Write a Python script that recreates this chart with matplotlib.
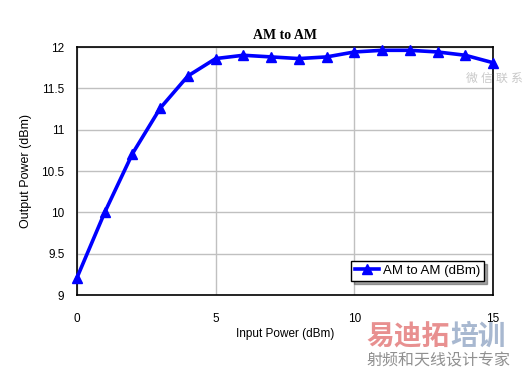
import matplotlib.pyplot as plt

plt.rcParams['font.family'] = ['Liberation Sans', 'Noto Sans CJK SC', 'DejaVu Sans']

# ==========================================
# 資料
# ==========================================
input_power = [0, 1, 2, 3, 4, 5, 6, 7, 8, 9, 10, 11, 12, 13, 14, 15]
output_power = [9.21, 10.0, 10.71, 11.26, 11.65, 11.86, 11.9, 11.88, 11.86, 11.88,
                11.94, 11.96, 11.96, 11.94, 11.9, 11.81]
x_ticks = [0, 5, 10, 15]
y_ticks = [9, 9.5, 10, 10.5, 11, 11.5, 12]

fig = plt.figure(figsize=(5.26, 3.73), dpi=100)
ax = fig.add_axes([77 / 526, 1 - 295 / 373, 416 / 526, 248 / 373])

ax.plot(input_power, output_power, color='#0000ff', lw=2.6, marker='^', ms=7,
        label='AM to AM (dBm)', clip_on=False, zorder=3)

ax.set_xlim(0, 15)
ax.set_ylim(9, 12)
ax.set_xticks(x_ticks)
ax.set_yticks(y_ticks)
ax.set_yticklabels([f'{v:g}' for v in y_ticks])
ax.tick_params(length=0, labelsize=8.5, pad=9)
ax.tick_params(axis='x', pad=13)
ax.grid(True, color='#c0c0c0', lw=1)
ax.set_axisbelow(True)
for s in ax.spines.values():
    s.set_color('black')
    s.set_linewidth(1.2)

ax.set_xlabel('Input Power (dBm)', fontsize=8.5, labelpad=2)
ax.set_ylabel('Output Power (dBm)', fontsize=9, labelpad=7)
ax.set_title('AM to AM', fontsize=10, fontweight='bold', family='Liberation Serif', pad=6)

leg = ax.legend(loc='lower right', fontsize=9.5, frameon=True, fancybox=False, shadow=True,
                borderpad=0.3, handlelength=1.8, handletextpad=0.3,
                bbox_to_anchor=(0.995, 0.03))
leg.get_frame().set_edgecolor('black')
leg.get_frame().set_linewidth(1)

# 浮水印
fig.text(0.993, 0.78, '微 信 联 系', fontsize=8.5, color='#c8c8c8', ha='right')
fig.text(0.697, 0.075, '易迪拓', fontsize=20, color='#e89090', fontweight='bold', ha='left')
fig.text(0.856, 0.075, '培训', fontsize=20, color='#a8b8d0', fontweight='bold', ha='left')
fig.text(0.697, 0.02, '射频和天线设计专家', fontsize=11.5, color='#909090', ha='left')

fig.savefig('out.png', dpi=100)
